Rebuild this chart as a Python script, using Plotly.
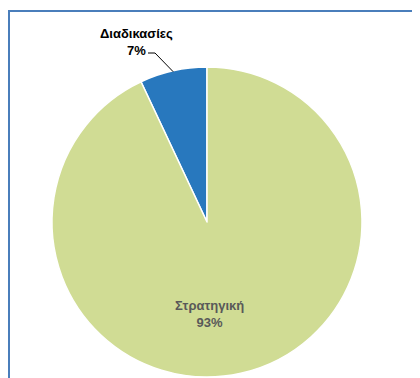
import math
import plotly.graph_objects as go

labels = ["Διαδικασίες", "Στρατηγική"]
values = [7, 93]
colors = ["#2878BE", "#D0DC94"]

W, H = 420, 378
OFF = 8  # page body margin offset
cx, cy, r = 207, 222, 155  # pie centre / radius in screen pixels

def px(x):
    return (x - OFF) / W

def py(y):
    return 1 - (y - OFF) / H

total = sum(values)
pct = [round(v / total * 100) for v in values]
first_angle = 360 * values[0] / total

fig = go.Figure()
fig.add_trace(go.Pie(
    labels=labels,
    values=values,
    sort=False,
    direction="clockwise",
    rotation=-first_angle,
    textinfo="none",
    hoverinfo="label+percent",
    marker=dict(colors=colors, line=dict(color="white", width=1.5)),
    domain=dict(x=[px(cx - r), px(cx + r)], y=[py(cy + r), py(cy - r)]),
    showlegend=False,
))

# Label for small slice, outside with leader line
mid_angle = math.radians(first_angle / 2)
ex = cx - r * math.sin(mid_angle)
ey = cy - r * math.cos(mid_angle)
fig.add_shape(type="path",
              path=f"M {px(148)},{py(53)} L {px(155)},{py(53)} L {px(ex)},{py(ey + 1)}",
              xref="paper", yref="paper",
              line=dict(color="black", width=1))
fig.add_annotation(x=px(136), y=py(42), xref="paper", yref="paper",
                   xanchor="center", yanchor="middle",
                   text=f"<b>{labels[0]}</b><br><b>{pct[0]}%</b>",
                   showarrow=False, align="center",
                   font=dict(family="Liberation Sans, Arial", size=13, color="black"))
fig.add_annotation(x=px(209), y=py(314), xref="paper", yref="paper",
                   xanchor="center", yanchor="middle",
                   text=f"<b>{labels[1]}</b><br><b>{pct[1]}%</b>",
                   showarrow=False, align="center",
                   font=dict(family="Liberation Sans, Arial", size=13, color="#595959"))

# chart-area border (cut off at right / bottom)
fig.add_shape(type="rect", xref="paper", yref="paper",
              x0=px(9), y0=-0.1, x1=1.1, y1=py(11),
              line=dict(color="#4A7EBB", width=2), fillcolor="rgba(0,0,0,0)")

fig.update_layout(width=W, height=H, margin=dict(l=0, r=0, t=0, b=0),
                  paper_bgcolor="white", plot_bgcolor="white")
fig.write_html("out.html")
